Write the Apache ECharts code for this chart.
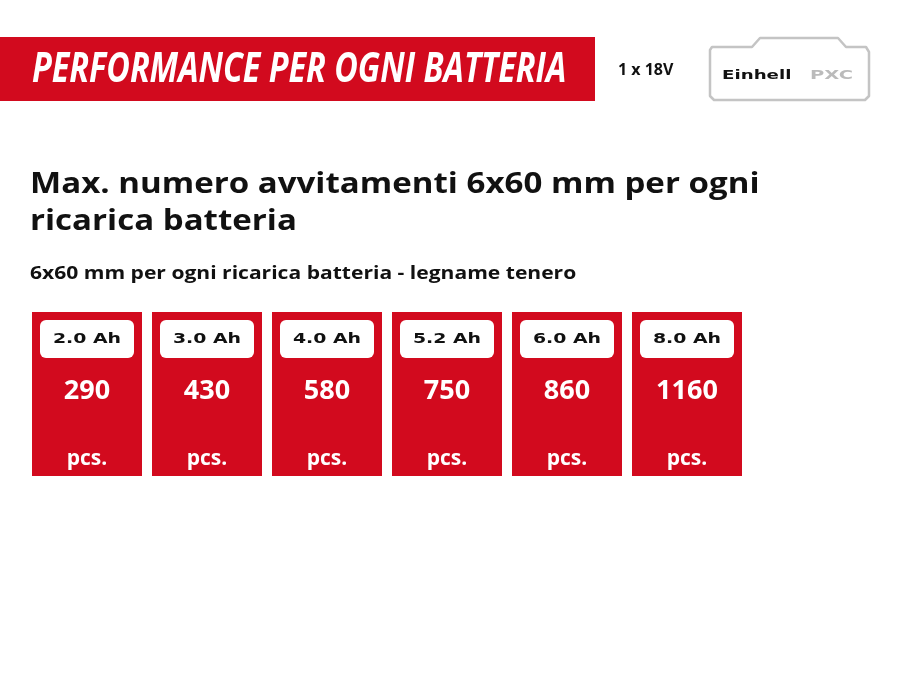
<!DOCTYPE html><html><head><meta charset="utf-8">
<script src="https://cdn.jsdelivr.net/npm/echarts@6/dist/echarts.min.js"></script>
<style>html,body{margin:0;padding:0;background:#fff}#c{width:900px;height:675px}</style></head>
<body><div id="c"></div><script>
const categories = ['2.0 Ah','3.0 Ah','4.0 Ah','5.2 Ah','6.0 Ah','8.0 Ah'];
const values = [290,430,580,750,860,1160];
const unit = 'pcs.';
const RED = '#d20a1e';
const chart = echarts.init(document.getElementById('c'));
chart.setOption({
  animation:false,
  grid:{left:27,width:720,top:312,height:164},
  xAxis:{type:'category',data:categories,show:false},
  yAxis:{type:'value',min:0,max:1,show:false},
  graphic:[
    {type:'rect',shape:{x:0,y:37,width:595,height:64},style:{fill:RED}},
    {type:'text',x:32,y:70,scaleX:0.9,scaleY:1.15,style:{text:'PERFORMANCE PER OGNI BATTERIA',fill:'#fff',font:'italic bold 36px "Open Sans", sans-serif',verticalAlign:'middle'}},
    {type:'text',x:618,y:70,style:{text:'1 x 18V',fill:'#111',font:'bold 16px "Open Sans", sans-serif',verticalAlign:'middle'}},
    {type:'polygon',shape:{points:[[712,47],[752,47],[760,38],[838,38],[846,47],[866,47],[869,52],[869,96],[865,100],[714,100],[710,96],[710,50]]},style:{fill:'#fff',stroke:'#c4c4c4',lineWidth:2.5,lineJoin:'round'}},
    {type:'text',x:722,y:76,scaleX:1.4,style:{text:'Einhell',fill:'#111',font:'bold 13px "DejaVu Sans", sans-serif',verticalAlign:'middle'}},
    {type:'text',x:810,y:76,scaleX:1.5,style:{text:'PXC',fill:'#bbb',font:'bold 13px "DejaVu Sans", sans-serif',verticalAlign:'middle'}},
    {type:'text',x:30,y:185,scaleX:1.14,style:{text:'Max. numero avvitamenti 6x60 mm per ogni',fill:'#111',font:'bold 29px "Open Sans", sans-serif',verticalAlign:'middle'}},
    {type:'text',x:30,y:222,scaleX:1.14,style:{text:'ricarica batteria',fill:'#111',font:'bold 29px "Open Sans", sans-serif',verticalAlign:'middle'}},
    {type:'text',x:30,y:274,scaleX:1.17,style:{text:'6x60 mm per ogni ricarica batteria - legname tenero',fill:'#111',font:'bold 18px "Open Sans", sans-serif',verticalAlign:'middle'}}
  ],
  series:[{
    type:'custom',
    data:values.map((v,i)=>[i,v]),
    renderItem:(params,api)=>{
      const i=api.value(0);
      const c=api.coord([i,0]);
      const top=api.coord([i,1])[1];
      const x=c[0]-55, h=c[1]-top;
      return {type:'group',children:[
        {type:'rect',shape:{x:x,y:top,width:110,height:h},style:{fill:RED}},
        {type:'rect',shape:{x:x+8,y:top+8,width:94,height:38,r:6},style:{fill:'#fff'}},
        {type:'text',x:c[0],y:top+27,scaleX:1.35,style:{text:categories[i],fill:'#111',font:'bold 14px "DejaVu Sans", sans-serif',align:'center',verticalAlign:'middle'}},
        {type:'text',x:c[0],y:top+79,style:{text:String(api.value(1)),fill:'#fff',font:'bold 27px "Open Sans", sans-serif',align:'center',verticalAlign:'middle'}},
        {type:'text',x:c[0],y:top+147,style:{text:unit,fill:'#fff',font:'bold 21px "Open Sans", sans-serif',align:'center',verticalAlign:'middle'}}
      ]};
    }
  }]
});
</script></body></html>
